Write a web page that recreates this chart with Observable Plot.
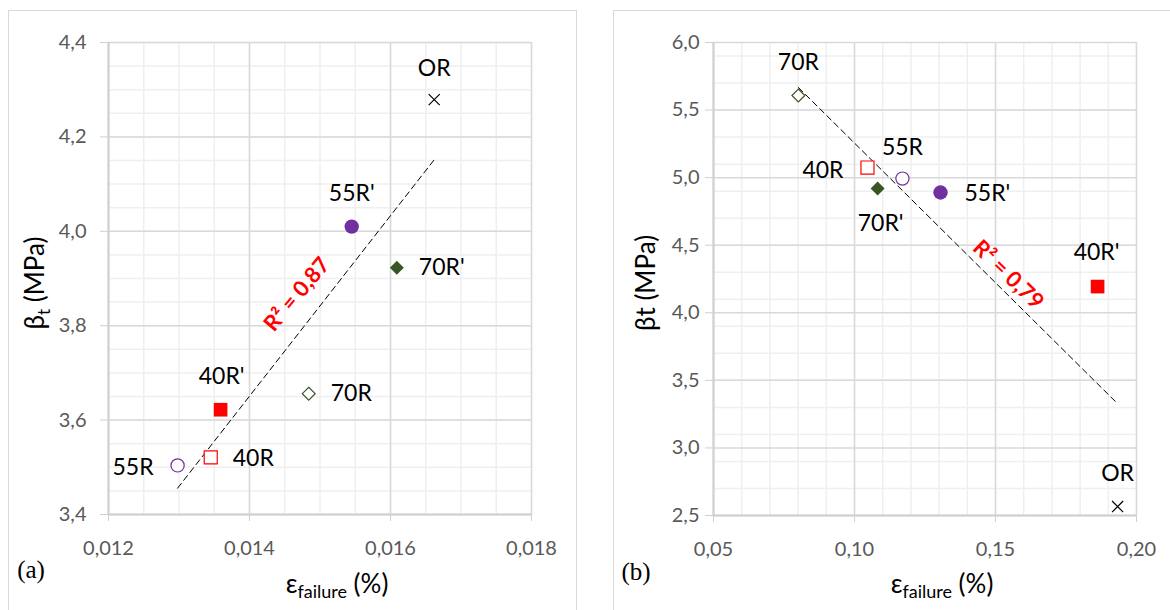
<!DOCTYPE html>
<html>
<head>
<meta charset="utf-8">
<script src="https://cdn.jsdelivr.net/npm/d3@7"></script>
<script src="https://cdn.jsdelivr.net/npm/@observablehq/plot@0.6"></script>
<style>
  body { margin: 0; background: #fff; }
  #wrap { position: relative; width: 1170px; height: 610px; overflow: hidden; background: #fff; font-family: Lato, sans-serif; }
  .frame { position: absolute; border: 1px solid #d9d9d9; box-sizing: border-box; }
  .pl { position: absolute; top: 0; }
</style>
</head>
<body>
<div id="wrap">
  <div class="frame" style="left:8px; top:10px; width:569px; height:610px;"></div>
  <div class="frame" style="left:613px; top:10px; width:570px; height:610px;"></div>
</div>
<script>
// ---- data ----
const labels = ["OR", "55R'", "70R'", "70R", "40R'", "40R", "55R"];
// panel (a)
const epsA  = [0.01662, 0.01545, 0.01609, 0.01484, 0.01359, 0.01345, 0.01298];
const betaA = [4.279, 4.010, 3.923, 3.656, 3.622, 3.521, 3.504];
// panel (b)
const epsB  = [0.1933, 0.1305, 0.1082, 0.0801, 0.1862, 0.1046, 0.1170];
const betaB = [2.566, 4.890, 4.919, 5.608, 4.194, 5.075, 4.993];

const xTicksA = [0.012, 0.014, 0.016, 0.018];
const xTickLabelsA = ["0,012", "0,014", "0,016", "0,018"];
const yTicksA = [3.4, 3.6, 3.8, 4.0, 4.2, 4.4];
const yTickLabelsA = ["3,4", "3,6", "3,8", "4,0", "4,2", "4,4"];
const xTicksB = [0.05, 0.10, 0.15, 0.20];
const xTickLabelsB = ["0,05", "0,10", "0,15", "0,20"];
const yTicksB = [2.5, 3.0, 3.5, 4.0, 4.5, 5.0, 5.5, 6.0];
const yTickLabelsB = ["2,5", "3,0", "3,5", "4,0", "4,5", "5,0", "5,5", "6,0"];

const r2TextA = "R² = 0,87";
const r2TextB = "R² = 0,79";

// ---- styles ----
const markerStyle = {
  "OR":   {symbol: "times",    r: 5.1, fill: "none",    stroke: "#000000", sw: 1.2},
  "55R'": {symbol: "circle",   r: 7.2, fill: "#7030a0", stroke: "none",    sw: 0},
  "55R":  {symbol: "circle",   r: 6.6, fill: "white",   stroke: "#7030a0", sw: 1.2},
  "70R'": {symbol: "diamond2", r: 6.3, fill: "#375623", stroke: "none",    sw: 0},
  "70R":  {symbol: "diamond2", r: 5.8, fill: "white",   stroke: "#375623", sw: 1.2},
  "40R'": {symbol: "square2",  r: 8.7, fill: "#ff0000", stroke: "none",    sw: 0},
  "40R":  {symbol: "square2",  r: 8.3, fill: "white",   stroke: "#ff0000", sw: 1.2}
};
const labelPosA = {
  "OR":   {dx: 0,   dy: -31, anchor: "middle"},
  "55R'": {dx: 0,   dy: -33, anchor: "middle"},
  "70R'": {dx: 22,  dy: 0,   anchor: "start"},
  "70R":  {dx: 22,  dy: 0,   anchor: "start"},
  "40R'": {dx: 1,   dy: -33, anchor: "middle"},
  "40R":  {dx: 22,  dy: 1,   anchor: "start"},
  "55R":  {dx: -24, dy: 2,   anchor: "end"}
};
const labelPosB = {
  "OR":   {dx: 0,   dy: -33, anchor: "middle"},
  "55R'": {dx: 24,  dy: 1,   anchor: "start"},
  "70R'": {dx: 3,   dy: 35,  anchor: "middle"},
  "70R":  {dx: 0,   dy: -33, anchor: "middle"},
  "40R'": {dx: -1,  dy: -34, anchor: "middle"},
  "40R":  {dx: -24, dy: 3,   anchor: "end"},
  "55R":  {dx: 0,   dy: -31, anchor: "middle"}
};

function makePanel(cfg) {
  const {eps, beta, xDomain, yDomain, xTicks, xTickLabels, yTicks, yTickLabels,
         xMinor, yMinor, width, marginLeft, marginRight, marginBottom, yPad,
         labelPos, r2Text, r2Rotate, r2dx, r2dy} = cfg;
  const idx = d3.range(eps.length);
  const data = idx.map(i => ({eps: eps[i], beta: beta[i], label: labels[i]}));
  const marks = [
    Plot.ruleX(xMinor, {stroke: "#efefef", strokeWidth: 1.5}),
    Plot.ruleY(yMinor, {stroke: "#efefef", strokeWidth: 1.5}),
    Plot.ruleX(xTicks, {stroke: "#d9d9d9", strokeWidth: 1.5}),
    Plot.ruleY(yTicks, {stroke: "#d9d9d9", strokeWidth: 1.5}),
    Plot.ruleX([xDomain[0]], {stroke: "#d0d0d0", strokeWidth: 2}),
    Plot.ruleY([yDomain[0]], {stroke: "#d0d0d0", strokeWidth: 2}),
    Plot.axisX({ticks: xTicks, tickFormat: d => xTickLabels[xTicks.indexOf(d)],
      tickSize: 7, tickPadding: 19, fontSize: 20, stroke: "#d0d0d0", fill: "#595959", label: null}),
    Plot.axisY({ticks: yTicks, tickFormat: d => yTickLabels[yTicks.indexOf(d)],
      tickSize: 8, tickPadding: yPad, fontSize: 20, stroke: "#d0d0d0", fill: "#595959", label: null}),
    Plot.linearRegressionY(data, {x: "eps", y: "beta", stroke: "#000", strokeWidth: 1,
      strokeDasharray: "6 4", ci: 0})
  ];
  data.forEach(d => {
    const s = markerStyle[d.label];
    marks.push(Plot.dot([d], {x: "eps", y: "beta", symbol: s.symbol, r: s.r,
      fill: s.fill, stroke: s.stroke, strokeWidth: s.sw}));
  });
  data.forEach(d => {
    const p = labelPos[d.label];
    marks.push(Plot.text([d], {x: "eps", y: "beta", text: "label", dx: p.dx, dy: p.dy,
      textAnchor: p.anchor, fontSize: 23, fill: "#000"}));
  });
  marks.push(Plot.text([{x: d3.mean(eps), y: d3.mean(beta)}], {x: "x", y: "y",
    text: () => r2Text, rotate: r2Rotate, dx: r2dx, dy: r2dy, fill: "#ff0000",
    fontWeight: "bold", fontSize: 22}));
  return Plot.plot({
    width, height: 610, marginLeft, marginRight, marginTop: 42, marginBottom,
    x: {domain: xDomain}, y: {domain: yDomain},
    style: {background: "transparent", fontFamily: "Lato, sans-serif", overflow: "visible"},
    marks
  });
}

const wrap = document.getElementById("wrap");

const svgA = makePanel({
  eps: epsA, beta: betaA, xDomain: [0.012, 0.018], yDomain: [3.4, 4.4],
  xTicks: xTicksA, xTickLabels: xTickLabelsA, yTicks: yTicksA, yTickLabels: yTickLabelsA,
  xMinor: d3.range(0, 13).map(i => 0.012 + i * 0.0005),
  yMinor: d3.range(0, 21).map(i => 3.4 + i * 0.05),
  width: 590, marginLeft: 108, marginRight: 59, marginBottom: 96, yPad: 14,
  labelPos: labelPosA, r2Text: r2TextA, r2Rotate: -50, r2dx: -3, r2dy: -37
});
svgA.classList.add("pl");
svgA.style.left = "0px";
wrap.appendChild(svgA);

const svgB = makePanel({
  eps: epsB, beta: betaB, xDomain: [0.05, 0.20], yDomain: [2.5, 6.0],
  xTicks: xTicksB, xTickLabels: xTickLabelsB, yTicks: yTicksB, yTickLabels: yTickLabelsB,
  xMinor: d3.range(0, 16).map(i => 0.05 + i * 0.01),
  yMinor: d3.range(0, 18).map(i => 2.5 + i * 0.2),
  width: 580, marginLeft: 123, marginRight: 34, marginBottom: 95, yPad: 6,
  labelPos: labelPosB, r2Text: r2TextB, r2Rotate: 44, r2dx: 65, r2dy: 44
});
svgB.classList.add("pl");
svgB.style.left = "590px";
wrap.appendChild(svgB);

// axis titles and panel letters
function yTitle(svg, x, y, sub) {
  const t = d3.select(svg).append("text")
    .attr("transform", `translate(${x},${y}) rotate(-90)`)
    .attr("text-anchor", "middle").attr("font-family", "Lato, sans-serif")
    .attr("font-size", 26).attr("fill", "#000");
  if (sub) {
    t.append("tspan").text("β");
    t.append("tspan").text("t").attr("font-size", 17).attr("dy", 6);
    t.append("tspan").text(" (MPa)").attr("dy", -6);
  } else {
    t.text("βt (MPa)");
  }
}
function xTitle(svg, x, y) {
  const t = d3.select(svg).append("text")
    .attr("x", x).attr("y", y)
    .attr("text-anchor", "middle").attr("font-family", "Lato, sans-serif")
    .attr("font-size", 26).attr("fill", "#000");
  t.append("tspan").text("ε");
  t.append("tspan").text("failure").attr("font-size", 18).attr("dy", 5);
  t.append("tspan").text(" (%)").attr("dy", -5);
}
function letter(svg, x, y, s) {
  d3.select(svg).append("text").attr("x", x).attr("y", y)
    .attr("font-family", "'Liberation Serif', 'Times New Roman', serif")
    .attr("font-size", 25).attr("fill", "#000").text(s);
}
yTitle(svgA, 44, 283, true);
xTitle(svgA, 337, 593);
letter(svgA, 31, 578, "(a)");
yTitle(svgB, 653 - 590 + 2, 283, false);
xTitle(svgB, 942 - 590, 593);
letter(svgB, 636 - 590, 580, "(b)");
</script>
</body>
</html>
